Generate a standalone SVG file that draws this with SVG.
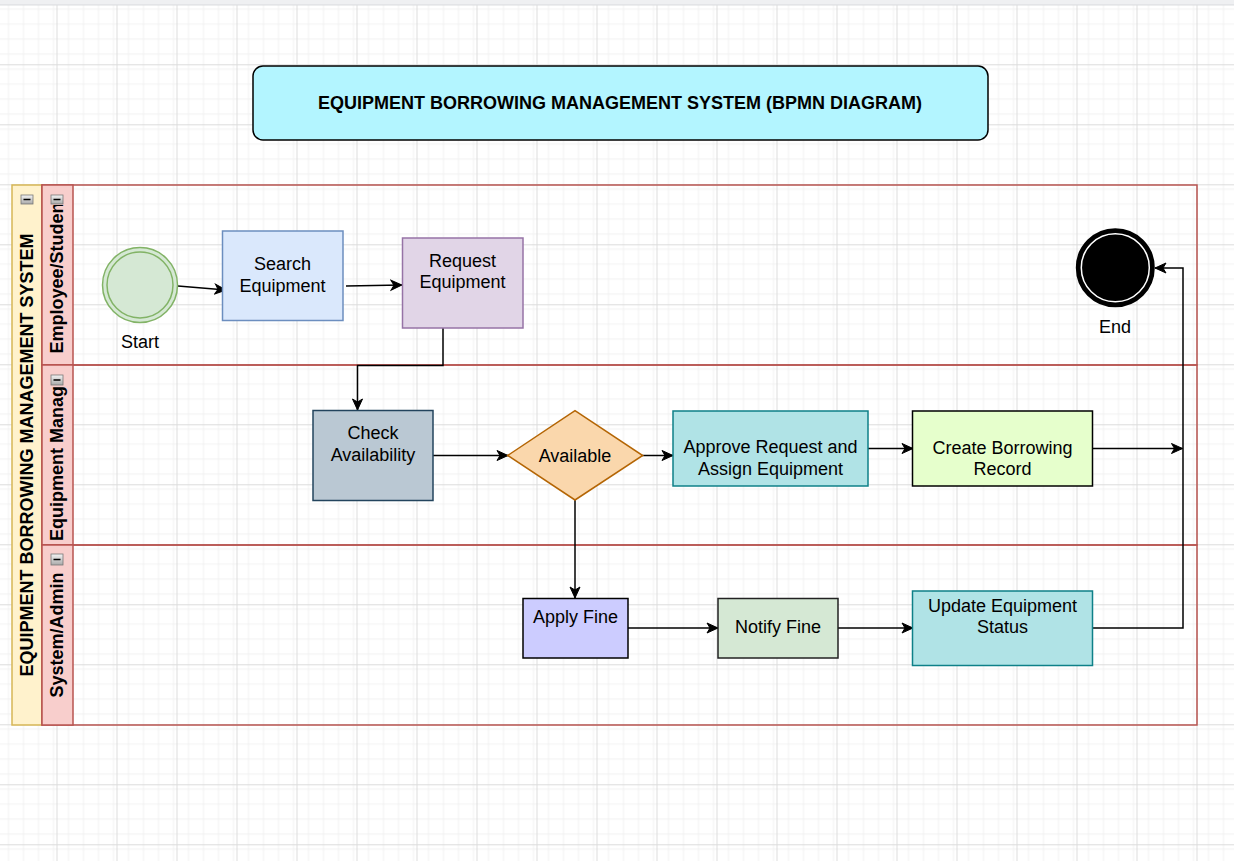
<svg xmlns="http://www.w3.org/2000/svg" width="1234" height="861" viewBox="0 0 1234 861">
<defs>
  <pattern id="minor" patternUnits="userSpaceOnUse" x="-3.5" y="4.3" width="15" height="15">
    <path d="M0.5 0V15M0 0.5H15" stroke="#f1f1f1" stroke-width="1" fill="none"/>
  </pattern>
  <pattern id="major" patternUnits="userSpaceOnUse" x="-3.5" y="4.3" width="60" height="60">
    <rect width="60" height="60" fill="url(#minor)"/>
    <path d="M0.5 0V60M0 0.5H60" stroke="#dcdcdc" stroke-width="1" fill="none"/>
  </pattern>
  <linearGradient id="icon" x1="0" y1="0" x2="0" y2="1">
    <stop offset="0" stop-color="#f4f4f4"/>
    <stop offset="1" stop-color="#a9a9a9"/>
  </linearGradient>
  <marker id="arr" markerUnits="userSpaceOnUse" markerWidth="13" markerHeight="13" viewBox="0 0 13 13" refX="12" refY="6.5" orient="auto">
    <path d="M1,1.5 L12,6.5 L1,11.5 L4,6.5 Z" fill="#000" stroke="#000" stroke-width="1"/>
  </marker>
  <clipPath id="clip1"><rect x="42" y="205" width="31" height="160"/></clipPath>
  <clipPath id="clip2"><rect x="42" y="386" width="31" height="159"/></clipPath>
  <clipPath id="clip3"><rect x="42" y="567" width="31" height="158"/></clipPath>
</defs>
<style>
  text { font-family: "Liberation Sans", Arial, Helvetica, sans-serif; fill: #000; }
  .t { font-size: 18px; text-anchor: middle; }
  .b { font-size: 18px; font-weight: bold; text-anchor: middle; }
  .edge { fill: none; stroke: #000; stroke-width: 1.5; }
  .ico { fill: url(#icon); stroke: #777; stroke-width: 0.8; }
</style>

<rect width="1234" height="861" fill="#ffffff"/>
<rect x="0" y="5" width="1234" height="856" fill="url(#major)"/>
<rect x="0" y="0" width="1234" height="4.5" fill="#eff0f2"/>
<line x1="0" y1="4.8" x2="1234" y2="4.8" stroke="#dadce0" stroke-width="1"/>

<g id="title">
  <rect x="253" y="66" width="735" height="74" rx="10" ry="10" fill="#b3f5ff" stroke="#000" stroke-width="1.5"/>
  <text class="b" x="620" y="108.5">EQUIPMENT BORROWING MANAGEMENT SYSTEM (BPMN DIAGRAM)</text>
</g>

<g id="pool">
  <rect x="12" y="185" width="30" height="540" fill="#fff2cc" stroke="#d6b656" stroke-width="1.5"/>
  <text class="b" x="33" y="455" transform="rotate(-90 33 455)">EQUIPMENT BORROWING MANAGEMENT SYSTEM</text>
  <rect class="ico" x="21" y="195" width="12" height="9"/>
  <line x1="23.5" y1="199.5" x2="30.5" y2="199.5" stroke="#000" stroke-width="1.5"/>
</g>

<g id="lane-employee">
  <rect x="42" y="185" width="1155" height="180" fill="none" stroke="#b85450" stroke-width="1.5"/>
  <rect x="42" y="185" width="31" height="180" fill="#f8cecc" stroke="#b85450" stroke-width="1.5"/>
  <g clip-path="url(#clip1)">
    <text class="b" x="63" y="275" transform="rotate(-90 63 275)">Employee/Student</text>
  </g>
  <rect class="ico" x="51" y="195" width="12" height="9"/>
  <line x1="53.5" y1="199.5" x2="60.5" y2="199.5" stroke="#000" stroke-width="1.5"/>
</g>

<g id="lane-manager">
  <rect x="42" y="365" width="1155" height="180" fill="none" stroke="#b85450" stroke-width="1.5"/>
  <rect x="42" y="365" width="31" height="180" fill="#f8cecc" stroke="#b85450" stroke-width="1.5"/>
  <g clip-path="url(#clip2)">
    <text class="b" x="63" y="455" transform="rotate(-90 63 455)">Equipment Manager</text>
  </g>
  <rect class="ico" x="51" y="375" width="12" height="10"/>
  <line x1="53.5" y1="380" x2="60.5" y2="380" stroke="#000" stroke-width="1.5"/>
</g>

<g id="lane-system">
  <rect x="42" y="545" width="1155" height="180" fill="none" stroke="#b85450" stroke-width="1.5"/>
  <rect x="42" y="545" width="31" height="180" fill="#f8cecc" stroke="#b85450" stroke-width="1.5"/>
  <g clip-path="url(#clip3)">
    <text class="b" x="63" y="635" transform="rotate(-90 63 635)">System/Admin</text>
  </g>
  <rect class="ico" x="51" y="554" width="12" height="11"/>
  <line x1="53.5" y1="559.5" x2="60.5" y2="559.5" stroke="#000" stroke-width="1.5"/>
</g>

<g id="connectors">
  <path class="edge" d="M178,286 L226,290" marker-end="url(#arr)"/>
  <path class="edge" d="M346,286 L402,285" marker-end="url(#arr)"/>
  <path class="edge" d="M443,328 V365.5 H357.5 V410" marker-end="url(#arr)"/>
  <path class="edge" d="M433,455.5 H508" marker-end="url(#arr)"/>
  <path class="edge" d="M642,455.5 H673" marker-end="url(#arr)"/>
  <path class="edge" d="M868,448.5 H913" marker-end="url(#arr)"/>
  <path class="edge" d="M1093,448.5 H1182.5" marker-end="url(#arr)"/>
  <path class="edge" d="M575,500 V598" marker-end="url(#arr)"/>
  <path class="edge" d="M628,628 H718" marker-end="url(#arr)"/>
  <path class="edge" d="M838,628 H913" marker-end="url(#arr)"/>
  <path class="edge" d="M1093,628 H1183 V268 H1155" marker-end="url(#arr)"/>
</g>

<g id="start">
  <circle cx="140" cy="285" r="37.5" fill="#d5e8d4" stroke="#82b366" stroke-width="1.5"/>
  <circle cx="140" cy="285" r="33" fill="none" stroke="#82b366" stroke-width="1.5"/>
  <text class="t" x="140" y="348">Start</text>
</g>

<g id="search">
  <rect x="222.5" y="231" width="120.5" height="89.5" fill="#dae8fc" stroke="#6c8ebf" stroke-width="1.5"/>
  <text class="t" x="282.5" y="270">Search</text>
  <text class="t" x="282.5" y="292">Equipment</text>
</g>

<g id="request">
  <rect x="402.5" y="238" width="120.5" height="90" fill="#e1d5e7" stroke="#9673a6" stroke-width="1.5"/>
  <text class="t" x="462.5" y="267">Request</text>
  <text class="t" x="462.5" y="288">Equipment</text>
</g>

<g id="end">
  <circle cx="1115.3" cy="267.7" r="37" fill="#000" stroke="#000" stroke-width="5"/>
  <circle cx="1115.3" cy="267.7" r="34" fill="none" stroke="#fff" stroke-width="1.5"/>
  <text class="t" x="1115" y="333">End</text>
</g>

<g id="check">
  <rect x="313" y="410.5" width="120" height="90" fill="#bac8d3" stroke="#23445d" stroke-width="1.5"/>
  <text class="t" x="373" y="439">Check</text>
  <text class="t" x="373" y="461">Availability</text>
</g>

<g id="available">
  <polygon points="575,410.7 642.7,455.5 575,500 507.7,455.5" fill="#fad7ac" stroke="#b46504" stroke-width="1.5"/>
  <text class="t" x="575" y="461.5">Available</text>
</g>

<g id="approve">
  <rect x="673" y="411" width="195" height="75" fill="#b0e3e6" stroke="#0e8088" stroke-width="1.5"/>
  <text class="t" x="770.5" y="453">Approve Request and</text>
  <text class="t" x="770.5" y="475">Assign Equipment</text>
</g>

<g id="create">
  <rect x="912.5" y="411" width="180" height="75" fill="#e6ffcc" stroke="#000" stroke-width="1.5"/>
  <text class="t" x="1002.5" y="453.5">Create Borrowing</text>
  <text class="t" x="1002.5" y="475">Record</text>
</g>

<g id="apply">
  <rect x="523" y="598.5" width="105" height="59.5" fill="#ccccff" stroke="#000" stroke-width="1.5"/>
  <text class="t" x="575.5" y="623">Apply Fine</text>
</g>

<g id="notify">
  <rect x="718" y="598.5" width="120" height="59.5" fill="#d5e8d4" stroke="#222" stroke-width="1.5"/>
  <text class="t" x="778" y="633">Notify Fine</text>
</g>

<g id="update">
  <rect x="912.5" y="591" width="180" height="74.5" fill="#b0e3e6" stroke="#0e8088" stroke-width="1.5"/>
  <text class="t" x="1002.5" y="612">Update Equipment</text>
  <text class="t" x="1002.5" y="633">Status</text>
</g>
</svg>
